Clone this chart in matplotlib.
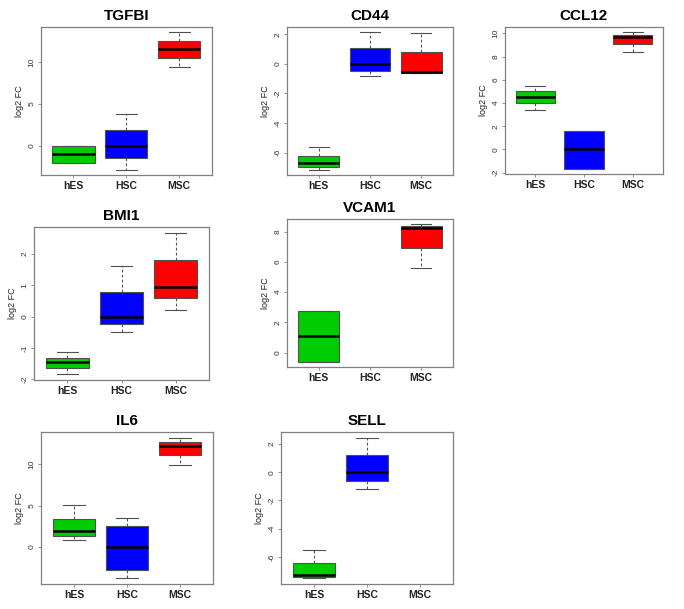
import matplotlib
matplotlib.use("Agg")
import matplotlib.pyplot as plt
from matplotlib.ticker import MultipleLocator

plt.rcParams['font.family'] = ['Liberation Sans', 'DejaVu Sans']
plt.rcParams['axes.unicode_minus'] = False

groups = ["hES", "HSC", "MSC"]
colors = ["#00CD00", "#0000FF", "#FF0000"]

# box stats per group: [whisker low, Q1, median, Q3, whisker high]; None = no data
TGFBI = [[-2.12, -2.12, -1.04, 0.0, 0.0],
         [-2.88, -1.44, 0.0, 1.84, 3.76],
         [9.4, 10.48, 11.64, 12.6, 13.6]]
CD44 = [[-7.15, -6.97, -6.74, -6.22, -5.6],
        [-0.83, -0.47, 0.0, 1.1, 2.13],
        [-0.6, -0.6, -0.54, 0.79, 2.07]]
CCL12 = [[3.39, 3.99, 4.53, 5.01, 5.44],
         [-1.65, -1.65, 0.0, 1.62, 1.62],
         [8.38, 9.06, 9.69, 9.89, 10.09]]
BMI1 = [[-1.84, -1.65, -1.46, -1.32, -1.13],
        [-0.48, -0.24, 0.0, 0.79, 1.62],
        [0.2, 0.58, 0.95, 1.81, 2.68]]
VCAM1 = [[-0.59, -0.59, 1.1, 2.78, 2.78],
         None,
         [5.6, 6.92, 8.28, 8.35, 8.48]]
IL6 = [[0.88, 1.36, 1.92, 3.44, 5.08],
       [-3.8, -2.76, 0.0, 2.56, 3.48],
       [9.92, 11.08, 12.28, 12.72, 13.24]]
SELL = [[-7.52, -7.41, -7.29, -6.43, -5.51],
        [-1.19, -0.63, 0.0, 1.19, 2.45],
        None]

panels = [
    ("TGFBI", TGFBI, 5, (40.7, 27, 212, 175)),
    ("CD44", CD44, 2, (287, 27, 453, 175)),
    ("CCL12", CCL12, 2, (505, 27, 663, 174)),
    ("BMI1", BMI1, 1, (34, 227, 209, 380)),
    ("VCAM1", VCAM1, 2, (287, 219, 453, 367)),
    ("IL6", IL6, 5, (41, 432, 213, 584)),
    ("SELL", SELL, 2, (281, 432, 453, 584)),
]

W, H = 684, 609
fig = plt.figure(figsize=(W / 100, H / 100), dpi=100)

frame_col = "#808080"
for title, data, step, (l, t, r, b) in panels:
    ax = fig.add_axes([l / W, 1 - b / H, (r - l) / W, (b - t) / H])
    stats, pos, cols = [], [], []
    for i, s in enumerate(data):
        if s is None:
            continue
        wl, q1, med, q3, wh = s
        stats.append(dict(whislo=wl, q1=q1, med=med, q3=q3, whishi=wh, fliers=[]))
        pos.append(i + 1)
        cols.append(colors[i])
    res = ax.bxp(stats, positions=pos, widths=0.8, capwidths=0.4,
                 patch_artist=True, showfliers=False,
                 boxprops=dict(edgecolor="#505050", linewidth=0.8),
                 whiskerprops=dict(color="#505050", linestyle=(0, (2.5, 2)), linewidth=0.8),
                 capprops=dict(color="#505050", linewidth=0.8),
                 medianprops=dict(color="black", linewidth=1.8, solid_capstyle="butt"),
                 manage_ticks=False)
    for patch, c in zip(res['boxes'], cols):
        patch.set_facecolor(c)
    vals = [v for s in data if s is not None for v in s]
    lo, hi = min(vals), max(vals)
    rng = hi - lo
    ax.set_ylim(lo - 0.04 * rng, hi + 0.04 * rng)
    ax.set_xlim(0.38, 3.62)
    ax.set_xticks([1, 2, 3])
    ax.set_xticklabels(groups, fontsize=7.5, fontweight="bold", color="#222222")
    ax.yaxis.set_major_locator(MultipleLocator(step))
    for lab in ax.get_yticklabels():
        lab.set_rotation(90)
        lab.set_va("center")
    ax.tick_params(axis="y", labelsize=6, length=2.5, width=0.6, color=frame_col,
                   labelcolor="#333333", pad=1.5)
    ax.tick_params(axis="x", length=2.5, width=0.6, color=frame_col, pad=2)
    ax.set_ylabel("log2 FC", fontsize=6.5, color="#222222", labelpad=3)
    ax.set_title(title, fontsize=11, fontweight="bold", pad=5)
    for sp in ax.spines.values():
        sp.set_color(frame_col)
        sp.set_linewidth(0.9)

fig.savefig("out.png", dpi=100)
